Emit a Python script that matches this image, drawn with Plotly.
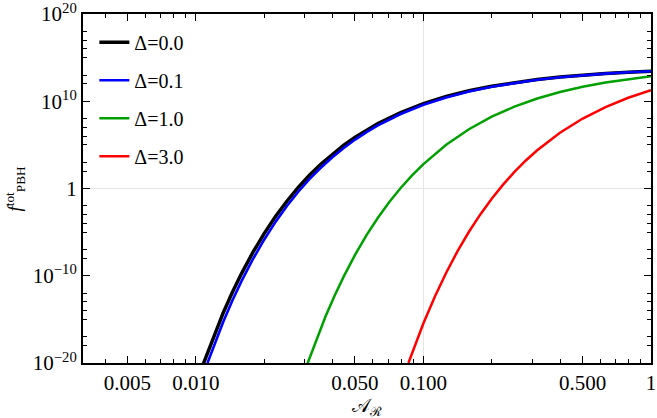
import numpy as np
import plotly.graph_objects as go

# values (log10 of A_R and log10 of f_PBH^tot)
delta_labels = ["Δ=0.0", "Δ=0.1", "Δ=1.0", "Δ=3.0"]
line_colors = ["#000000", "#0000ff", "#00a000", "#ff0000"]
line_widths = [3.5, 2.6, 2.5, 2.5]

logA_d00 = [-1.967, -1.92, -1.88, -1.84, -1.80, -1.75, -1.70, -1.65, -1.60, -1.55, -1.50, -1.45,
            -1.40, -1.35, -1.30, -1.25, -1.20, -1.10, -1.00, -0.90, -0.80, -0.70, -0.60, -0.50,
            -0.40, -0.30, -0.20, -0.10, 0.0]
logf_d00 = [-20.09, -16.81, -14.26, -11.92, -9.78, -7.35, -5.17, -3.21, -1.46, 0.12, 1.54, 2.81,
            3.95, 4.97, 5.89, 6.71, 7.45, 8.71, 9.72, 10.54, 11.20, 11.73, 12.16, 12.50,
            12.78, 13.00, 13.18, 13.32, 13.44]

logA_d01 = [-1.949, -1.92, -1.88, -1.84, -1.80, -1.75, -1.70, -1.65, -1.60, -1.55, -1.50, -1.45,
            -1.40, -1.35, -1.30, -1.25, -1.20, -1.10, -1.00, -0.90, -0.80, -0.70, -0.60, -0.50,
            -0.40, -0.30, -0.20, -0.10, 0.0]
logf_d01 = [-20.0, -17.95, -15.30, -12.87, -10.65, -8.13, -5.87, -3.83, -2.01, -0.37, 1.10, 2.41,
            3.59, 4.65, 5.61, 6.46, 7.23, 8.54, 9.59, 10.43, 11.12, 11.67, 12.11, 12.47,
            12.75, 12.98, 13.17, 13.32, 13.44]

logA_d10 = [-1.51, -1.47, -1.43, -1.39, -1.35, -1.30, -1.25, -1.20, -1.15, -1.10, -1.05, -1.00,
            -0.90, -0.80, -0.70, -0.60, -0.50, -0.40, -0.30, -0.20, -0.10, 0.0]
logf_d10 = [-20.10, -17.25, -14.65, -12.26, -10.07, -7.58, -5.35, -3.35, -1.55, 0.06, 1.50, 2.80,
            5.01, 6.79, 8.23, 9.38, 10.31, 11.06, 11.66, 12.15, 12.54, 12.86]

logA_d30 = [-1.066, -1.03, -1.00, -0.95, -0.90, -0.85, -0.80, -0.75, -0.70, -0.65, -0.60, -0.55,
            -0.50, -0.40, -0.30, -0.20, -0.10, 0.0]
logf_d30 = [-20.0, -17.45, -15.45, -12.40, -9.65, -7.18, -4.96, -2.97, -1.17, 0.44, 1.90, 3.21,
            4.38, 6.39, 8.02, 9.33, 10.40, 11.26]

x_tickvals = [0.005, 0.01, 0.05, 0.1, 0.5, 1]
x_ticktext = ["0.005", "0.010", "0.050", "0.100", "0.500", "1"]
y_tickvals = [1e-20, 1e-10, 1, 1e10, 1e20]
y_ticktext = ["10<sup>−20</sup>", "10<sup>−10</sup>", "1", "10<sup>10</sup>", "10<sup>20</sup>"]
y_minor_exp = [b + k for b in (-20, -10, 0, 10) for k in (2, 3, 5, 6, 7, 8)]

series = [(logA_d00, logf_d00), (logA_d01, logf_d01), (logA_d10, logf_d10), (logA_d30, logf_d30)]

serif = "Liberation Serif"

fig = go.Figure()
for i, (lx, ly) in enumerate(series):
    fig.add_trace(go.Scatter(
        x=10 ** np.array(lx), y=10 ** np.array(ly),
        mode="lines", name=delta_labels[i], legendgroup=str(i),
        line=dict(color=line_colors[i], width=line_widths[i]),
    ))

# light grid only at A=0.1 and f=1
fig.add_vline(x=0.1, line=dict(color="#e4e4e4", width=1), layer="below")
fig.add_hline(y=1, line=dict(color="#e4e4e4", width=1), layer="below")

fig.update_layout(
    width=657, height=418,
    margin=dict(l=83, r=6, t=14, b=55),
    paper_bgcolor="white", plot_bgcolor="white",
    font=dict(family=serif, size=21, color="black"),
    showlegend=True,
    legend=dict(x=0.02, y=0.975, xanchor="left", yanchor="top",
                bgcolor="rgba(0,0,0,0)", font=dict(family=serif, size=20),
                tracegroupgap=9, itemwidth=30),
    xaxis=dict(type="log", range=[-2.496, 0.0], tickvals=x_tickvals, ticktext=x_ticktext,
               ticks="inside", ticklen=7, tickcolor="black",
               showline=True, linecolor="black", linewidth=2, mirror="allticks",
               showgrid=False, zeroline=False, automargin=False, ticklabeloverflow="allow",
               minor=dict(dtick="D1", ticks="inside", ticklen=4, tickcolor="black")),
    yaxis=dict(type="log", range=[-20, 20], tickvals=y_tickvals, ticktext=y_ticktext,
               ticks="inside", ticklen=7, tickcolor="black",
               showline=True, linecolor="black", linewidth=2, mirror="allticks",
               showgrid=False, zeroline=False, automargin=False, ticklabeloverflow="allow",
               minor=dict(tickmode="array", tickvals=[10.0 ** e for e in y_minor_exp],
                          ticks="inside", ticklen=4, tickcolor="black")),
    annotations=[
        dict(text="𝒜<sub>ℛ</sub>", xref="paper", yref="paper", x=0.5, y=0,
             xanchor="center", yanchor="top", yshift=-30, showarrow=False,
             font=dict(family=serif, size=19)),
        dict(text="<i>f</i><sup>tot</sup><sub>PBH</sub>", xref="paper", yref="paper",
             x=0, y=0.5, xanchor="center", yanchor="middle", xshift=-68, textangle=-90,
             showarrow=False, font=dict(family=serif, size=19)),
    ],
)

fig.write_html("out.html", config={"displayModeBar": False},
               post_script="document.body.style.margin='0';")
